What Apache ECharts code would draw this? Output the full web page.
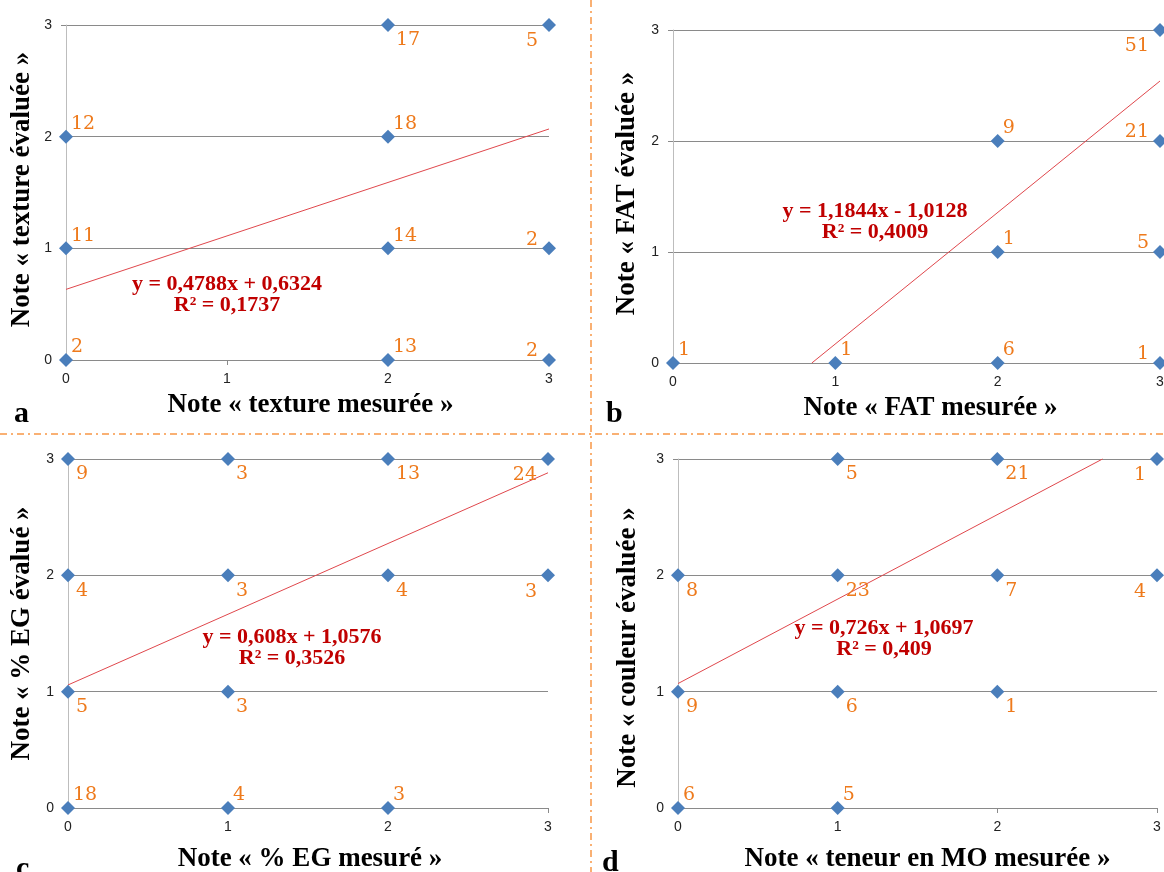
<!DOCTYPE html>
<html><head><meta charset="utf-8">
<script src="https://cdn.jsdelivr.net/npm/echarts@6/dist/echarts.min.js"></script>
<style>html,body{margin:0;padding:0;background:#fff}#c{width:1164px;height:872px}</style>
</head><body><div id="c"></div>
<script>
// ---- data ----
const tickValues = [0, 1, 2, 3];
// Panel a : texture
const aX = [0, 0, 0, 2, 2, 2, 2, 3, 3, 3];
const aY = [0, 1, 2, 0, 1, 2, 3, 0, 1, 3];
const aN = [2, 11, 12, 13, 14, 18, 17, 2, 2, 5];
const aTrend = [[0, 0.6324], [3, 2.0688]];
const aEq = ['y = 0,4788x + 0,6324', 'R² = 0,1737'];
// Panel b : FAT
const bX = [0, 1, 2, 2, 2, 3, 3, 3, 3];
const bY = [0, 0, 0, 1, 2, 0, 1, 2, 3];
const bN = [1, 1, 6, 1, 9, 1, 5, 21, 51];
const bTrend = [[0.8551, 0], [3, 2.5404]];
const bEq = ['y = 1,1844x - 1,0128', 'R² = 0,4009'];
// Panel c : % EG
const cX = [0, 0, 0, 0, 1, 1, 1, 1, 2, 2, 2, 3, 3];
const cY = [0, 1, 2, 3, 0, 1, 2, 3, 0, 2, 3, 2, 3];
const cN = [18, 5, 4, 9, 4, 3, 3, 3, 3, 4, 13, 3, 24];
const cTrend = [[0, 1.0576], [3, 2.8816]];
const cEq = ['y = 0,608x + 1,0576', 'R² = 0,3526'];
// Panel d : MO
const dX = [0, 0, 0, 1, 1, 1, 1, 2, 2, 2, 3, 3];
const dY = [0, 1, 2, 0, 1, 2, 3, 1, 2, 3, 2, 3];
const dN = [6, 9, 8, 5, 6, 23, 5, 1, 7, 21, 4, 1];
const dTrend = [[0, 1.0697], [2.6588, 3]];
const dEq = ['y = 0,726x + 1,0697', 'R² = 0,409'];

const xTitles = ['Note « texture mesurée »', 'Note « FAT mesurée »', 'Note « % EG mesuré »', 'Note « teneur en MO mesurée »'];
const yTitles = ['Note « texture évaluée »', 'Note « FAT évaluée »', 'Note « % EG évalué »', 'Note « couleur évaluée »'];
const letters = ['a', 'b', 'c', 'd'];

// ---- styling / layout ----
const BLUE = '#4A7EBB', ORANGE = '#EE7A1C', TREND = '#E0474C', EQ = '#C00000', SEP = '#F79646';
const grids = [
  {left: 66, top: 25, width: 483, height: 335},
  {left: 673, top: 30, width: 487, height: 333},
  {left: 68, top: 459, width: 480, height: 349},
  {left: 678, top: 459, width: 479, height: 349}
];
const xNamePad = [[0,0,0,6],[0,0,0,28],[0,0,0,4],[0,0,0,20]];
const yNamePad = [[0,0,0,6],[0,0,0,6],[0,0,0,0],[0,28,0,0]];
const yNameGap = [30, 32, 32, 36];
const xNameGap = [32, 32, 38, 38];
const eqPos = [[227, 295], [875, 222], [292, 648], [884, 639]];
const letterPos = [[14, 399], [606, 399], [16, 854], [602, 848]];

const rules = [
  (x, y) => x === 3 ? (y === 3 ? 'BL' : 'TL') : (x === 2 && y === 3 ? 'BR' : 'TR'),
  (x, y) => x === 3 ? (y === 3 ? 'BL' : 'TL') : 'TR',
  (x, y) => y === 0 ? 'TR' : (x === 3 ? 'BL' : 'BR'),
  (x, y) => y === 0 ? 'TR' : (x === 3 ? 'BL' : 'BR')
];
const placements = {
  TR: {align: 'left', verticalAlign: 'bottom', offset: [5, -2]},
  BR: {align: 'left', verticalAlign: 'top', offset: [8, 5]},
  TL: {align: 'right', verticalAlign: 'bottom', offset: [-11, 2]},
  BL: {align: 'right', verticalAlign: 'top', offset: [-11, 6]}
};

const panels = [[aX, aY, aN, aTrend, aEq], [bX, bY, bN, bTrend, bEq], [cX, cY, cN, cTrend, cEq], [dX, dY, dN, dTrend, dEq]];

const xAxis = [], yAxis = [], series = [], graphic = [];
panels.forEach((p, i) => {
  const [px, py, pn, tr, eq] = p;
  xAxis.push({
    type: 'value', gridIndex: i, min: 0, max: 3, interval: 1,
    name: xTitles[i], nameLocation: 'middle', nameGap: xNameGap[i],
    nameTextStyle: {fontFamily: 'Liberation Serif', fontWeight: 'bold', fontSize: 27, color: '#000', padding: xNamePad[i]},
    axisLine: {show: true, lineStyle: {color: '#8A8A8A', width: 1}},
    axisTick: {show: true, length: 5, lineStyle: {color: '#8A8A8A'}},
    splitLine: {show: false},
    axisLabel: {fontFamily: 'Liberation Sans', fontSize: 14, color: '#222', margin: 12,
      formatter: v => tickValues.includes(v) ? String(v) : ''}
  });
  yAxis.push({
    type: 'value', gridIndex: i, min: 0, max: 3, interval: 1,
    name: yTitles[i], nameLocation: 'middle', nameGap: yNameGap[i],
    nameTextStyle: {fontFamily: 'Liberation Serif', fontWeight: 'bold', fontSize: 27, color: '#000', padding: yNamePad[i]},
    axisLine: {show: true, lineStyle: {color: '#BDBDBD', width: 1}},
    axisTick: {show: true, length: 5, lineStyle: {color: '#8A8A8A'}},
    splitLine: {show: true, lineStyle: {color: '#8A8A8A', width: 1}},
    axisLabel: {fontFamily: 'Liberation Sans', fontSize: 14, color: '#222', margin: 14,
      formatter: v => tickValues.includes(v) ? String(v) : ''}
  });
  series.push({
    type: 'line', xAxisIndex: i, yAxisIndex: i, data: tr, symbol: 'none', silent: true,
    lineStyle: {color: TREND, width: 1}, z: 3, clip: false
  });
  series.push({
    type: 'scatter', xAxisIndex: i, yAxisIndex: i, symbol: 'diamond', symbolSize: 14, clip: false, z: 4,
    itemStyle: {color: BLUE, opacity: 1},
    emphasis: {disabled: true},
    data: px.map((x, k) => {
      const pl = placements[rules[i](x, py[k])];
      return {value: [x, py[k]], label: {show: true, position: 'inside', formatter: String(pn[k]),
        align: pl.align, verticalAlign: pl.verticalAlign, offset: pl.offset,
        fontFamily: 'DejaVu Serif', fontSize: 19, lineHeight: 21, color: ORANGE, opacity: 1,
        textBorderWidth: 0, textShadowBlur: 0}};
    })
  });
  graphic.push({
    type: 'text', x: eqPos[i][0], y: eqPos[i][1], z: 10,
    style: {text: eq.join('\n'), align: 'center', verticalAlign: 'middle', lineHeight: 21,
      font: 'bold 22px "Liberation Serif"', fill: EQ}
  });
  graphic.push({
    type: 'text', x: letterPos[i][0], y: letterPos[i][1], z: 10,
    style: {text: letters[i], font: 'bold 30px "Liberation Serif"', fill: '#000'}
  });
});
graphic.push({type: 'line', shape: {x1: 591, y1: 0, x2: 591, y2: 872}, style: {stroke: SEP, lineWidth: 1.5, lineDash: [7, 4, 2, 4]}});
graphic.push({type: 'line', shape: {x1: 0, y1: 434, x2: 1164, y2: 434}, style: {stroke: SEP, lineWidth: 1.5, lineDash: [7, 4, 2, 4]}});

const chart = echarts.init(document.getElementById('c'), null, {renderer: 'canvas'});
chart.setOption({
  animation: false, backgroundColor: '#fff',
  grid: grids.map(g => Object.assign({containLabel: false, outerBoundsMode: 'none'}, g)),
  xAxis, yAxis, series, graphic
});
</script></body></html>
